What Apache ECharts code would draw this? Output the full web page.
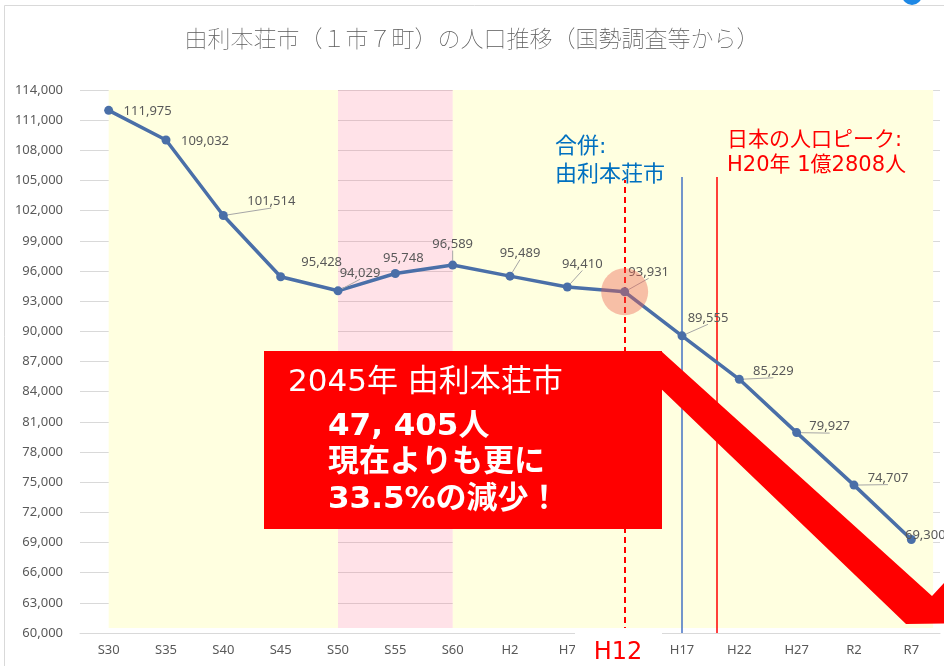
<!DOCTYPE html>
<html><head><meta charset="utf-8">
<script src="https://cdn.jsdelivr.net/npm/echarts@6/dist/echarts.min.js"></script>
<style>html,body{margin:0;padding:0;background:#fff;}#c{width:944px;height:666px;}</style>
</head><body><div id="c"></div>
<script>
// ---- data ----
const categories = ['S30','S35','S40','S45','S50','S55','S60','H2','H7','H12','H17','H22','H27','R2','R7'];
const population = [111975,109032,101514,95428,94029,95748,96589,95489,94410,93931,89555,85229,79927,74707,69300];
const yMin = 60000, yMax = 114000, yStep = 3000;
const highlightCategory = 'H12';
const mergerPos = 10;      // H17 (合併)
const japanPeakPos = 10.6; // H20 (日本の人口ピーク)
const h12Pos = 9;
const yellowRanges = [[0, 4], [6, 14.38]];
const pinkRange = [4, 6];  // S50 - S60

// ---- styles ----
const labelShift = [[39,1],[39,1],[48,-14],[41,-14],[22,-18],[8,-15],[0,-21],[10,-23],[15,-23],[24,-20],[26,-18],[34,-8],[33,-6],[34,-7],[14,-4]];
const leader = [false,false,true,false,true,false,true,true,true,true,true,true,true,true,false];
const fmt = v => Number(v).toLocaleString('en-US');
const GRAY = '#595959';
const LINE = '#4A6FA8';
const wideFont = '"DejaVu Sans", "Noto Sans CJK JP", sans-serif';

const chart = echarts.init(document.getElementById('c'));
chart.setOption({
  animation: false,
  backgroundColor: '#fff',
  title: {
    text: '由利本荘市（１市７町）の人口推移（国勢調査等から）',
    left: 'center', top: 22,
    textStyle: {fontSize: 23, color: GRAY, fontWeight: 'lighter', fontFamily: '"Noto Sans CJK JP", sans-serif'}
  },
  grid: {left: 80, right: 4, top: 90, bottom: 33},
  xAxis: [
    {type: 'category', data: categories, boundaryGap: true, z: 1,
     axisLine: {lineStyle: {color: '#d9d9d9'}}, axisTick: {show: false},
     axisLabel: {color: GRAY, fontSize: 13, margin: 11, fontFamily: '"Noto Sans", sans-serif'}},
    {type: 'value', min: -0.5, max: 14.5, show: false}
  ],
  yAxis: {type: 'value', min: yMin, max: yMax, interval: yStep, z: 1,
    axisLine: {show: false}, axisTick: {show: false},
    splitLine: {lineStyle: {color: '#d9d9d9'}},
    axisLabel: {formatter: fmt, color: GRAY, fontSize: 13, margin: 17, fontFamily: '"Noto Sans", sans-serif'}},
  series: [
    {type: 'line', xAxisIndex: 1, data: [], z: 0, silent: true,
     markArea: {silent: true, itemStyle: {color: '#FFFFE0'},
       data: yellowRanges.map(r => [{coord: [r[0], 60500]}, {coord: [r[1], 114400]}])}},
    {type: 'line', data: population.map((v, i) => ({
        value: v,
        label: {offset: labelShift[i]},
        labelLine: {show: leader[i]}
      })), z: 5,
     symbol: 'circle', symbolSize: 9,
     lineStyle: {color: LINE, width: 3.5}, itemStyle: {color: LINE},
     label: {show: true, position: 'inside', formatter: p => fmt(p.value), color: GRAY, fontSize: 13, fontFamily: '"Noto Sans", sans-serif'},
     labelLine: {lineStyle: {color: '#a6a6a6', width: 1}}},
    {type: 'line', xAxisIndex: 1, data: [], z: 6, silent: true,
     markArea: {silent: true, itemStyle: {color: 'rgba(255,110,140,0.2)'},
       data: [[{coord: [pinkRange[0], 60500]}, {coord: [pinkRange[1], 114400]}]]}},
    {type: 'scatter', z: 7, silent: true, symbolSize: 47,
     itemStyle: {color: 'rgba(235,95,80,0.5)'},
     data: population.map((v, i) => categories[i] === highlightCategory ? v : '-')},
    {type: 'line', xAxisIndex: 1, data: [], z: 8, silent: true,
     markLine: {silent: true, symbol: 'none', label: {show: false},
       data: [
         [{coord: [h12Pos, 60000], lineStyle: {color: '#FF0000', width: 2, type: [6, 4]}}, {coord: [h12Pos, 105050]}],
         [{coord: [mergerPos, 60000], lineStyle: {color: '#4472C4', width: 1.5, type: 'solid'}}, {coord: [mergerPos, 105350]}],
         [{coord: [japanPeakPos, 60000], lineStyle: {color: '#FF0000', width: 1.5, type: 'solid'}}, {coord: [japanPeakPos, 105350]}]
       ]}}
  ],
  graphic: [
    {type: 'rect', shape: {x: 4.5, y: 5.5, width: 990, height: 700}, style: {fill: 'none', stroke: '#d9d9d9', lineWidth: 1}, z: 1},
    {type: 'circle', shape: {cx: 912, cy: -5, r: 10}, style: {fill: '#1E88E5'}},
    {type: 'polygon', z: 100, shape: {points: [[661,351],[932,596],[990,533],[990,623],[906,624],[655,383]]}, style: {fill: '#FF0000'}},
    {type: 'rect', z: 101, shape: {x: 264, y: 351, width: 398, height: 178}, style: {fill: '#FF0000'}},
    {type: 'text', z: 102, style: {text: '2045年 由利本荘市', x: 288, y: 383, fill: '#fff', fontSize: 31, fontFamily: wideFont, verticalAlign: 'middle'}},
    {type: 'text', z: 102, style: {text: '47, 405人', x: 328, y: 427, fill: '#fff', fontSize: 31, fontWeight: 'bold', fontFamily: wideFont, verticalAlign: 'middle'}},
    {type: 'text', z: 102, style: {text: '現在よりも更に', x: 328, y: 463, fill: '#fff', fontSize: 31, fontWeight: 'bold', fontFamily: wideFont, verticalAlign: 'middle'}},
    {type: 'text', z: 102, style: {text: '33.5%の減少！', x: 328, y: 500, fill: '#fff', fontSize: 31, fontWeight: 'bold', fontFamily: wideFont, verticalAlign: 'middle'}},
    {type: 'rect', z: 103, shape: {x: 575, y: 628, width: 87, height: 40}, style: {fill: '#fff'}},
    {type: 'text', z: 104, style: {text: 'H12', x: 618, y: 653, fill: '#FF0000', fontSize: 24, fontFamily: wideFont, align: 'center', verticalAlign: 'middle'}},
    {type: 'text', z: 104, style: {text: '合併:\n由利本荘市', x: 555, y: 133, fill: '#0070C0', fontSize: 22, lineHeight: 28, fontFamily: wideFont, verticalAlign: 'top'}},
    {type: 'text', z: 104, style: {text: '日本の人口ピーク:\nH20年 1億2808人', x: 727, y: 128, fill: '#FF0000', fontSize: 21, lineHeight: 25, fontFamily: wideFont, verticalAlign: 'top'}}
  ]
});
</script></body></html>
